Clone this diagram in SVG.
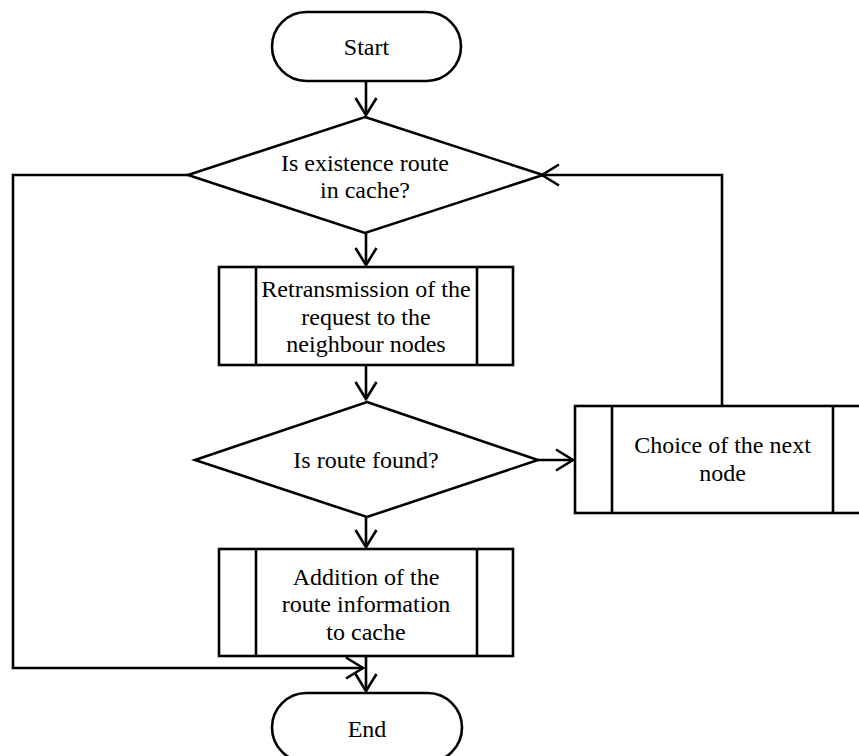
<svg xmlns="http://www.w3.org/2000/svg" width="859" height="756" viewBox="0 0 859 756">
<style>
.shape{fill:#fff;stroke:#000;stroke-width:2.6}
.line{fill:none;stroke:#000;stroke-width:2.6}
text{font-family:"Liberation Serif","Times New Roman",serif;font-size:24px;fill:#000;text-anchor:middle}
</style>
<defs>
<marker id="arr" markerUnits="userSpaceOnUse" markerWidth="24" markerHeight="26" viewBox="-20 -13 24 26" refX="0" refY="0" orient="auto">
<path d="M-17,-10.5 L0,0 L-17,10.5" fill="none" stroke="#000" stroke-width="2.6"/>
</marker>
</defs>
<rect width="859" height="756" fill="#fff"/>
<g id="connectors">
<path class="line" d="M366,81 V115" marker-end="url(#arr)"/>
<path class="line" d="M366,233 V265" marker-end="url(#arr)"/>
<path class="line" d="M366,365 V399" marker-end="url(#arr)"/>
<path class="line" d="M366,517 V547" marker-end="url(#arr)"/>
<path class="line" d="M366,656 V691" marker-end="url(#arr)"/>
<path class="line" d="M538,460 H573" marker-end="url(#arr)"/>
<path class="line" d="M722,406 V175 H542" marker-end="url(#arr)"/>
<path class="line" d="M188,175 H13 V668 H363" marker-end="url(#arr)"/>
</g>
<g id="start">
<rect class="shape" x="272" y="12" width="189" height="69" rx="34.5" ry="34.5"/>
<text x="366.5" y="55">Start</text>
</g>
<g id="decision1">
<polygon class="shape" points="365,117 543,175 365,233 188,175"/>
<text x="365" y="171">Is existence route</text>
<text x="365" y="198">in cache?</text>
</g>
<g id="retransmission">
<rect class="shape" x="219" y="267" width="294" height="98"/>
<line class="line" x1="256" y1="267" x2="256" y2="365"/>
<line class="line" x1="477" y1="267" x2="477" y2="365"/>
<text x="366" y="297">Retransmission of the</text>
<text x="366" y="324.5">request to the</text>
<text x="366" y="352">neighbour nodes</text>
</g>
<g id="decision2">
<polygon class="shape" points="367,402 538,460 367,517 195,460"/>
<text x="366" y="468">Is route found?</text>
</g>
<g id="choice">
<rect class="shape" x="575" y="406" width="296" height="107"/>
<line class="line" x1="612" y1="406" x2="612" y2="513"/>
<line class="line" x1="833" y1="406" x2="833" y2="513"/>
<text x="722.5" y="453">Choice of the next</text>
<text x="722.5" y="480.5">node</text>
</g>
<g id="addition">
<rect class="shape" x="219" y="549" width="294" height="107"/>
<line class="line" x1="256" y1="549" x2="256" y2="656"/>
<line class="line" x1="477" y1="549" x2="477" y2="656"/>
<text x="366" y="584.5">Addition of the</text>
<text x="366" y="612">route information</text>
<text x="366" y="639.5">to cache</text>
</g>
<g id="end">
<rect class="shape" x="272" y="693" width="190" height="69" rx="34.5" ry="34.5"/>
<text x="367" y="737">End</text>
</g>
</svg>
